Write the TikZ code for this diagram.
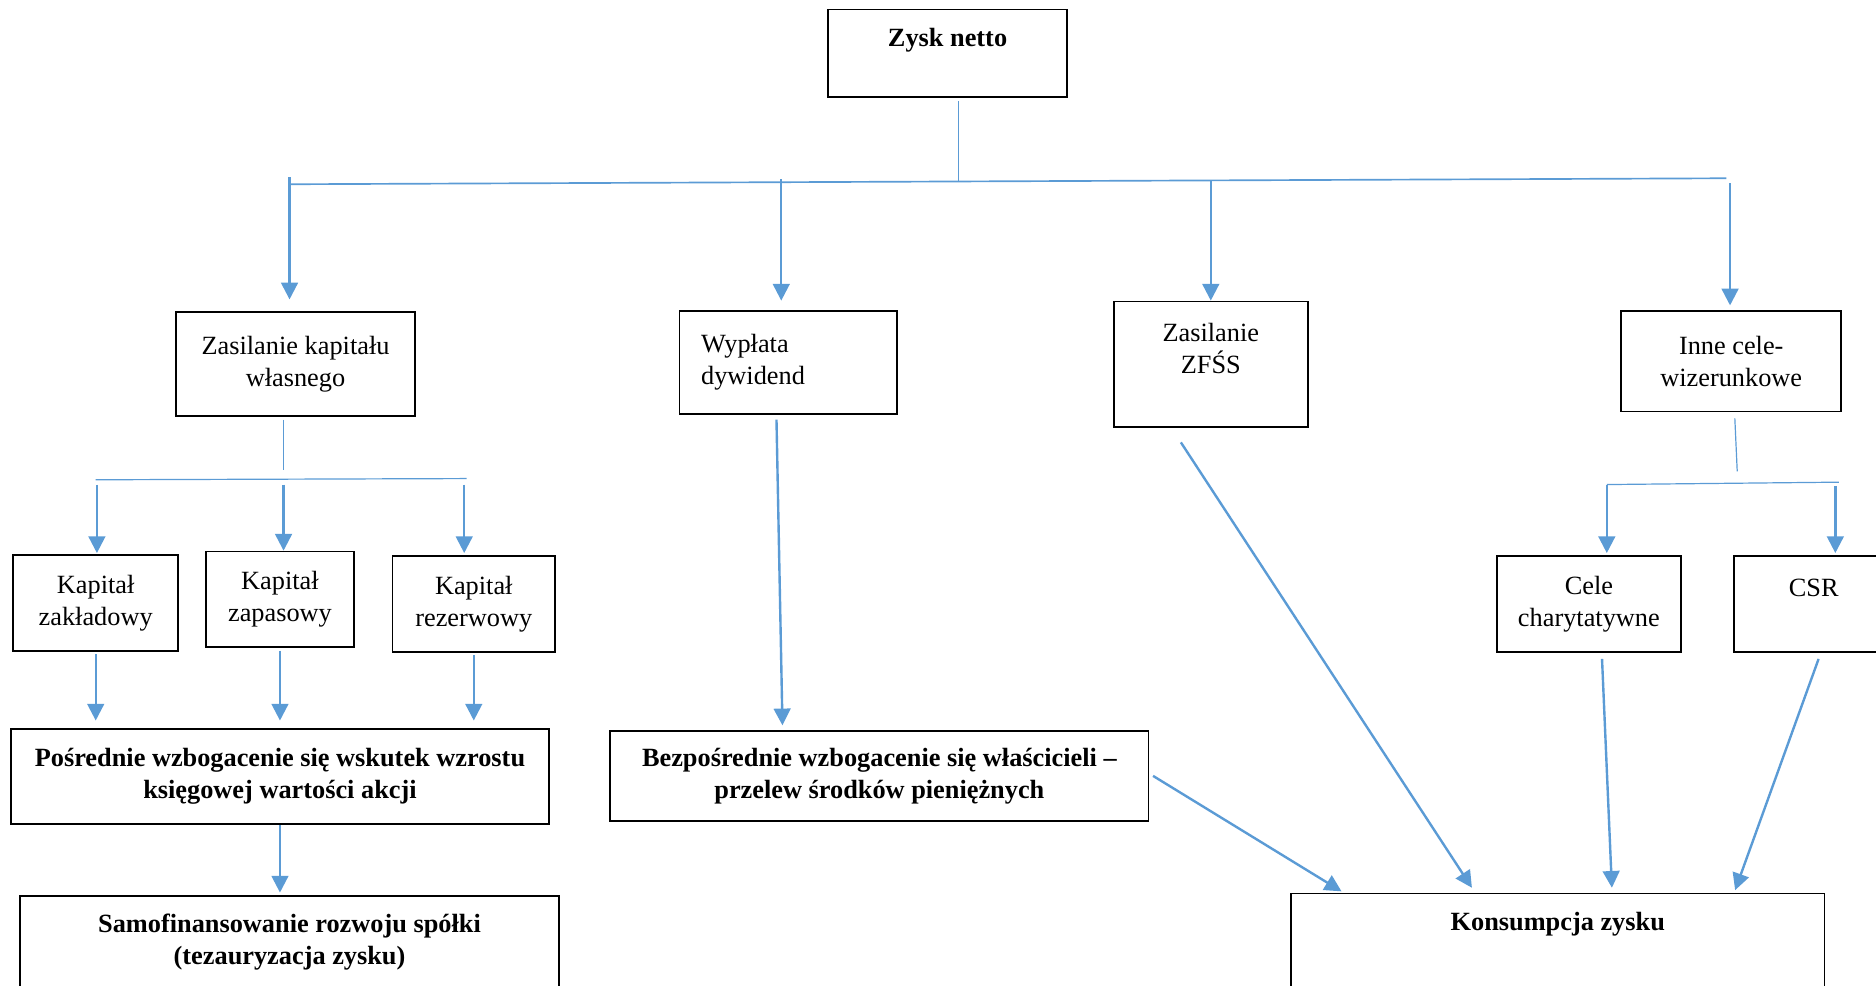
\documentclass[tikz,border=0pt]{standalone}
\usepackage{fontspec}
\setmainfont{Liberation Serif}
\usepackage{tikz}
\usetikzlibrary{arrows.meta,calc}

\definecolor{linkblue}{RGB}{91,155,213}

\begin{document}
\begin{tikzpicture}[
    x=1pt, y=-1pt,
    font=\fontsize{22}{27}\selectfont,
    block/.style={draw, line width=1.5pt, inner sep=0pt, align=center},
    bold/.style={font=\fontsize{22}{27}\selectfont\bfseries},
    link/.style={linkblue, line width=1pt},
    arrow/.style={linkblue, line width=2pt, -{Triangle[length=14pt, width=14pt]}}
  ]
    \clip (0,0) rectangle (1568,824);

    \node[block, bold, minimum width=200pt, minimum height=73pt] (zysk) at (792,44.5) {Zysk netto\\~};

    \node[block, minimum width=200pt, minimum height=87pt] (kapw) at (247,304.5) {Zasilanie kapitału\\własnego};
    \node[block, align=left, text width=146pt, minimum width=182pt, minimum height=86pt] (dyw) at (659,303) {Wypłata\\dywidend};
    \node[block, minimum width=162pt, minimum height=105pt] (zfss) at (1012,304.5) {Zasilanie\\ZFŚS\\~};
    \node[block, minimum width=184pt, minimum height=84pt] (inne) at (1447,302) {Inne cele-\\wizerunkowe};

    \node[block, minimum width=138pt, minimum height=80pt] (kzak) at (80,504) {Kapitał\\zakładowy};
    \node[block, minimum width=124pt, minimum height=80pt] (kzap) at (234,501) {Kapitał\\zapasowy};
    \node[block, minimum width=136pt, minimum height=80pt] (krez) at (396,505) {Kapitał\\rezerwowy};
    \node[block, minimum width=154pt, minimum height=80pt] (cele) at (1328,505) {Cele\\charytatywne};
    \node[block, minimum width=134pt, minimum height=80pt] (csr) at (1516,505) {CSR\\~};

    \node[block, bold, minimum width=450pt, minimum height=80pt] (posr) at (234,649) {Pośrednie wzbogacenie się wskutek wzrostu\\księgowej wartości akcji};
    \node[block, bold, minimum width=450pt, minimum height=75pt] (bezp) at (735,648.5) {Bezpośrednie wzbogacenie się właścicieli –\\przelew środków pieniężnych};
    \node[block, bold, anchor=north, minimum width=450pt, minimum height=100pt] (samo) at (242,748) {Samofinansowanie rozwoju spółki\\(tezauryzacja zysku)\\~};
    \node[block, bold, anchor=north, minimum width=446pt, minimum height=100pt] (kons) at (1302,746) {Konsumpcja zysku\\~\\~};

    % zysk netto -> four uses
    \coordinate (top) at (801,152);
    \coordinate (bar-l) at (242,154);
    \coordinate (bar-r) at (1443,149);
    \draw[link, shorten <=3pt] (top |- zysk.south) -- (top);
    \draw[link, line width=1.4pt] (bar-l) -- (bar-r);
    \foreach \x/\y/\n/\s in {242/148/kapw/10, 653/150/dyw/8, 1012/151/zfss/0, 1446/153/inne/4} {
      \coordinate (b-\n) at (\x,\y);
      \draw[arrow, shorten >=\s pt] (b-\n) -- (b-\n |- \n.north);
    }

    % kapital wlasny
    \coordinate (kw) at (237,393);
    \coordinate (kw-l) at (80,401);
    \coordinate (kw-r) at (390,400);
    \draw[link, shorten <=2pt] (kw |- kapw.south) -- (kw);
    \draw[link] (kw-l) -- (kw-r);
    \foreach \x/\n/\s in {81/kzak/1, 237/kzap/0, 388/krez/2} {
      \coordinate (c-\n) at (\x,405);
      \draw[arrow, shorten >=\s pt] (c-\n) -- (c-\n |- \n.north);
    }
    \foreach \n in {kzak, kzap, krez}
      \draw[arrow, shorten <=2pt, shorten >=6pt] (\n.south) -- (\n.south |- posr.north);
    \draw[arrow, shorten >=2pt] (posr.south) -- (posr.south |- samo.north);

    % dywidenda, ZFSS
    \draw[arrow] ($(dyw.south)+(-10,4)$) -- ($(bezp.north)+(-81,-4)$);
    \draw[arrow] ($(bezp.east)+(3,0)$) -- ($(kons.north west)+(43,-1)$);
    \draw[arrow] ($(zfss.south)+(-25,12)$) -- ($(kons.north west)+(152,-4)$);

    % inne cele
    \coordinate (iw) at (1452,394);
    \coordinate (iw-l) at (1343,405);
    \coordinate (iw-r) at (1537,403);
    \draw[link] ($(inne.south)+(3,5)$) -- (iw);
    \draw[link] (iw-l) -- (iw-r);
    \draw[arrow, shorten >=2pt] (iw-l) -- (iw-l |- cele.north);
    \draw[arrow, shorten >=2pt] (1534,406) coordinate (i-csr) -- (i-csr |- csr.north);
    \draw[arrow] ($(cele.south)+(11,5)$) -- ($(kons.north west)+(269,-4)$);
    \draw[arrow] ($(csr.south)+(4,5)$) -- ($(kons.north west)+(372,-2)$);
  \end{tikzpicture}
\end{document}
